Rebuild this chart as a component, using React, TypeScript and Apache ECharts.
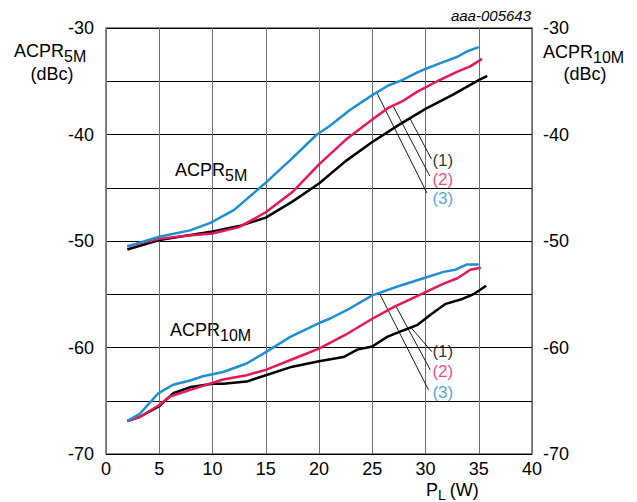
import React, { useEffect, useRef } from "react";
import * as echarts from "echarts";

// ---- data ----
const xMin = 0;
const xMax = 40;
const yMin = -70;
const yMax = -30;

// ACPR 5M curves
const a5BlackX = [2, 5, 7.5, 10, 12.5, 15, 17.5, 20, 22.5, 25, 27.5, 30, 32.5, 35, 35.8];
const a5BlackY = [-50.8, -49.9, -49.5, -49.1, -48.6, -47.8, -46.3, -44.6, -42.5, -40.7, -39.1, -37.6, -36.3, -34.9, -34.5];
const a5RedX = [2, 5, 7.5, 10, 12.5, 15, 17.5, 20, 22.5, 25, 26.5, 27.8, 29.2, 31.1, 33, 34.2, 35.3];
const a5RedY = [-50.5, -49.8, -49.5, -49.3, -48.7, -47.3, -45.4, -42.8, -40.5, -38.6, -37.5, -36.9, -36.0, -35.0, -34.1, -33.6, -32.9];
const a5BlueX = [2, 5, 7.9, 9.8, 12, 14.8, 17.3, 19.8, 21, 22.9, 25, 26.5, 27.8, 29.2, 30.1, 31.4, 33, 33.9, 35];
const a5BlueY = [-50.5, -49.6, -49.0, -48.3, -47.1, -44.7, -42.4, -40.0, -39.2, -37.7, -36.3, -35.4, -34.9, -34.2, -33.8, -33.3, -32.7, -32.2, -31.8];

// ACPR 10M curves
const a10BlackX = [2, 3.2, 5, 6.3, 8, 10, 11, 13.2, 15, 17.5, 20, 22.3, 23.6, 25, 26.4, 27.9, 29.2, 30.5, 31.9, 33.3, 34.5, 35.7];
const a10BlackY = [-66.9, -66.5, -65.5, -64.3, -63.7, -63.4, -63.4, -63.2, -62.6, -61.8, -61.3, -60.9, -60.2, -59.9, -59.0, -58.4, -57.9, -56.9, -55.9, -55.5, -55.0, -54.2];
const a10RedX = [2, 3.2, 5, 6, 8.8, 11, 13.2, 15, 17.5, 20, 22.5, 25, 27, 29.8, 31.7, 33, 34.2, 35.2];
const a10RedY = [-66.9, -66.5, -65.4, -64.6, -63.7, -63.0, -62.6, -62.1, -61.1, -60.1, -58.8, -57.3, -56.2, -54.9, -54.0, -53.5, -52.7, -52.5];
const a10BlueX = [2, 3.2, 4.9, 6.3, 7.9, 9.1, 11, 13.2, 14.9, 17.3, 20, 21, 22.6, 25, 27.3, 29.8, 31.7, 32.8, 33.9, 35];
const a10BlueY = [-66.9, -66.2, -64.3, -63.5, -63.1, -62.7, -62.3, -61.5, -60.5, -59.0, -57.7, -57.3, -56.5, -55.1, -54.3, -53.5, -52.9, -52.7, -52.2, -52.2];

// leader lines (start on curve, end near label) and label anchors
const curveLabels = ["(1)", "(2)", "(3)"];
const lead5Start = [[28.57, -38.55], [27.0, -37.4], [25.44, -36.1]];
const lead5End = [[30.55, -42.3], [30.4, -43.9], [30.14, -45.5]];
const label5Pos = [[30.65, -42.4], [30.65, -44.2], [30.65, -46.0]];
const lead10Start = [[28.57, -58.05], [27.16, -56.0], [25.75, -55.05]];
const lead10End = [[30.6, -60.4], [30.45, -62.1], [30.29, -64.0]];
const label10Pos = [[30.65, -60.4], [30.65, -62.3], [30.65, -64.2]];

const BLACK = "#000000";
const RED = "#e6175c";
const BLUE = "#1e8fd0";
const curveColors = [BLACK, RED, BLUE];
const FONT = "'Liberation Sans', Arial, Helvetica, sans-serif";

function zip(xs: number[], ys: number[]) {
  return xs.map((x, i) => [x, ys[i]]);
}

function measure(text: string, size: number, style = "normal") {
  const c = document.createElement("canvas").getContext("2d");
  if (!c) return text.length * size * 0.55;
  c.font = `${style} ${size}px 'Liberation Sans', Arial, sans-serif`;
  return c.measureText(text).width;
}

// text with subscript, left edge at x, main centered at y
function subText(x: number, y: number, main: string, sub: string, size: number, subSize: number, tail = "") {
  const w1 = measure(main, size);
  const w2 = measure(sub, subSize);
  const els: any[] = [
    { type: "text", x, y, style: { text: main, font: `${size}px ${FONT}`, fill: "#000", textVerticalAlign: "middle" } },
    { type: "text", x: x + w1, y: y + 5, style: { text: sub, font: `${subSize}px ${FONT}`, fill: "#000", textVerticalAlign: "middle" } },
  ];
  if (tail) {
    els.push({ type: "text", x: x + w1 + w2 + 4, y, style: { text: tail, font: `${size}px ${FONT}`, fill: "#000", textVerticalAlign: "middle" } });
  }
  return els;
}

export default function App() {
  const ref = useRef<HTMLDivElement>(null);
  useEffect(() => {
    if (!ref.current) return;
    document.body.style.margin = "0";
    const chart = echarts.init(ref.current, undefined, { renderer: "svg" });

    const lineSeries = (name: string, xs: number[], ys: number[], color: string) => ({
      name,
      type: "line",
      data: zip(xs, ys),
      showSymbol: false,
      smooth: false,
      lineStyle: { color, width: 2.5 },
      itemStyle: { color },
      z: 5,
    });

    const leaderData = [
      ...lead5Start.map((s, i) => ({ coords: [s, lead5End[i]] })),
      ...lead10Start.map((s, i) => ({ coords: [s, lead10End[i]] })),
    ];
    const labelData = [...label5Pos, ...label10Pos].map((p, i) => ({
      value: p,
      label: {
        show: true,
        position: "right",
        distance: 0,
        formatter: curveLabels[i % 3],
        color: curveColors[i % 3],
        fontSize: 17,
        fontFamily: FONT,
      },
    }));

    const tickFmt = (v: number) => (v % 10 === 0 ? String(v) : "");

    chart.setOption({
      animation: false,
      backgroundColor: "#ffffff",
      grid: {
        left: 106,
        right: 105,
        top: 28,
        bottom: 48,
        show: true,
        borderColor: "#666",
        borderWidth: 1.5,
        backgroundColor: "transparent",
      },
      xAxis: {
        type: "value",
        min: xMin,
        max: xMax,
        interval: 5,
        axisLine: { show: false },
        axisTick: { show: false },
        axisLabel: { color: "#000", fontSize: 18, fontFamily: FONT, margin: 6 },
        splitLine: { show: true, lineStyle: { color: "#707070", width: 1 } },
      },
      yAxis: [
        {
          type: "value",
          min: yMin,
          max: yMax,
          interval: 5,
          position: "left",
          axisLine: { show: false },
          axisTick: { show: false },
          axisLabel: { color: "#000", fontSize: 18, fontFamily: FONT, margin: 12, formatter: tickFmt },
          splitLine: { show: true, lineStyle: { color: "#000", width: 1 } },
        },
        {
          type: "value",
          min: yMin,
          max: yMax,
          interval: 5,
          position: "right",
          axisLine: { show: false },
          axisTick: { show: false },
          axisLabel: { color: "#000", fontSize: 18, fontFamily: FONT, margin: 11, formatter: tickFmt },
          splitLine: { show: false },
        },
      ],
      series: [
        lineSeries("5M (1)", a5BlackX, a5BlackY, BLACK),
        lineSeries("5M (2)", a5RedX, a5RedY, RED),
        lineSeries("5M (3)", a5BlueX, a5BlueY, BLUE),
        lineSeries("10M (1)", a10BlackX, a10BlackY, BLACK),
        lineSeries("10M (2)", a10RedX, a10RedY, RED),
        lineSeries("10M (3)", a10BlueX, a10BlueY, BLUE),
        {
          type: "lines",
          coordinateSystem: "cartesian2d",
          data: leaderData,
          lineStyle: { color: "#000", width: 0.9, opacity: 1 },
          silent: true,
          z: 4,
        },
        {
          type: "scatter",
          data: labelData,
          symbolSize: 0,
          silent: true,
          z: 6,
        },
      ],
      graphic: [
        ...subText(14, 51, "ACPR", "5M", 18, 16),
        { type: "text", x: 52, y: 74, style: { text: "(dBc)", font: `18px ${FONT}`, fill: "#000", textAlign: "center", textVerticalAlign: "middle" } },
        ...subText(543, 52, "ACPR", "10M", 18, 16),
        { type: "text", x: 585, y: 74, style: { text: "(dBc)", font: `18px ${FONT}`, fill: "#000", textAlign: "center", textVerticalAlign: "middle" } },
        { type: "text", x: 531, y: 15, style: { text: "aaa-005643", font: `italic 15px ${FONT}`, fill: "#000", textAlign: "right", textVerticalAlign: "middle" } },
        ...subText(175, 170, "ACPR", "5M", 18, 16),
        ...subText(170, 330, "ACPR", "10M", 18, 16),
        ...subText(426, 490, "P", "L", 18, 14, "(W)"),
      ],
    });

    return () => chart.dispose();
  }, []);

  return <div ref={ref} style={{ width: 637, height: 502, background: "#fff" }} />;
}
